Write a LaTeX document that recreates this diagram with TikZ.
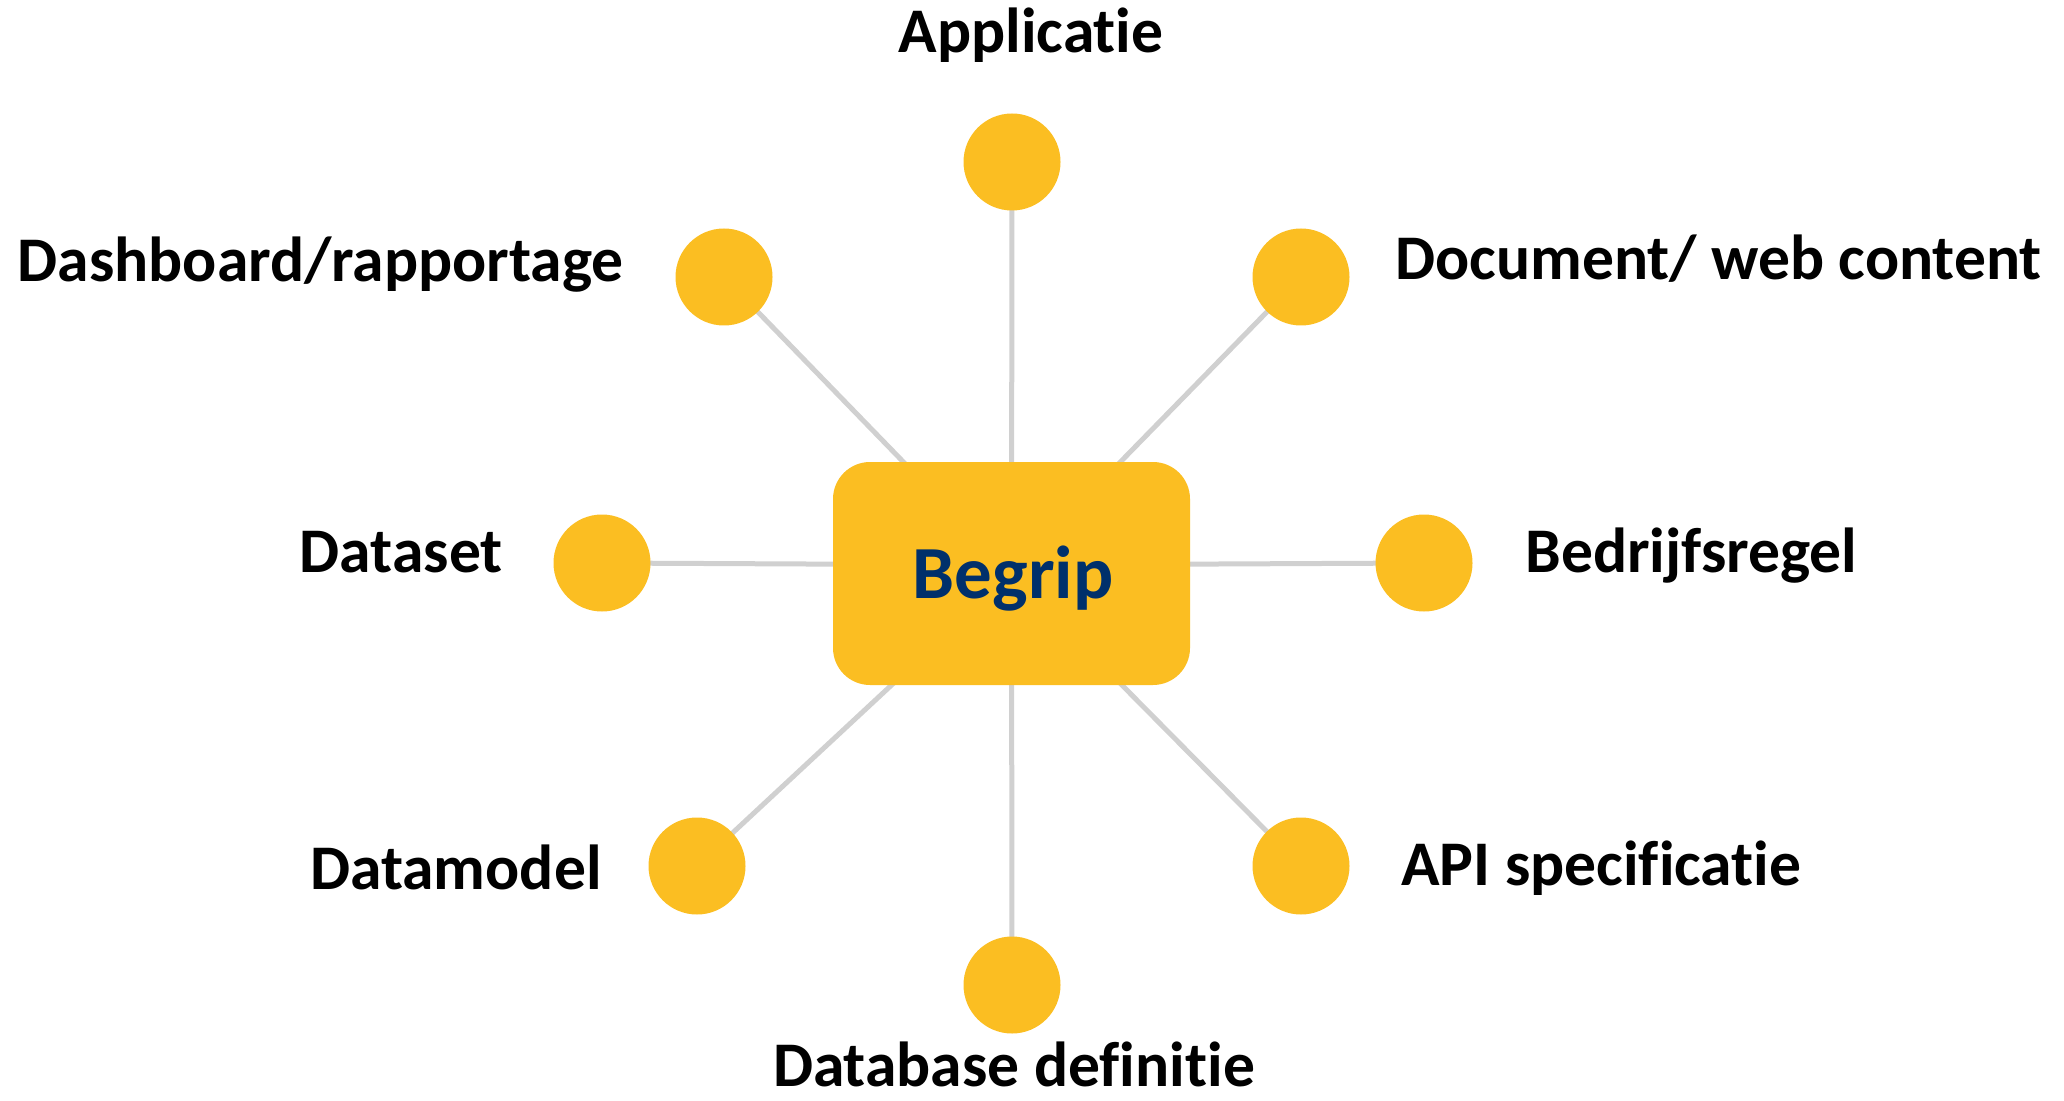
\documentclass[tikz,border=0pt]{standalone}
\usepackage{fontspec}
\setmainfont{Carlito}[Ligatures={NoCommon}]
\usetikzlibrary{backgrounds}
\definecolor{gold}{RGB}{251,190,34}
\definecolor{linegrey}{RGB}{208,208,208}
\definecolor{navy}{RGB}{0,48,107}
\begin{document}
\begin{tikzpicture}[x=0.5pt,y=-0.5pt,
  dot/.style={circle,fill=gold,minimum size=48.5pt,inner sep=0pt},
  hub/.style={rectangle,rounded corners=18.5pt,fill=gold,minimum width=178.5pt,minimum height=111.5pt,inner sep=0pt},
  lbl/.style={inner sep=0pt,font=\fontsize{31.8}{37}\selectfont\bfseries,text=black},
  link/.style={draw=linegrey,line width=2.5pt}]
\useasboundingbox (0,0) rectangle (2064,1101);
\node[hub] (b) at (1011.5,573.5) {};
\node[anchor=base,inner sep=0pt,font=\fontsize{37.5}{44}\selectfont\bfseries,text=navy] (bt) at (1013,598) {Begrip};
\node[dot] (c1) at (1012,162) {};
\node[dot] (c2) at (724,277) {};
\node[dot] (c3) at (1301,277) {};
\node[dot] (c4) at (602,563) {};
\node[dot] (c5) at (1424,563) {};
\node[dot] (c6) at (697,866) {};
\node[dot] (c7) at (1301,866) {};
\node[dot] (c8) at (1012,985) {};
\coordinate (bl) at (1011.5,565);
\node[lbl,anchor=base] (l1) at (1031,53) {Applicatie};
\node[lbl,anchor=base east] (l2) at (624,282) {Dashboard/rapportage};
\node[lbl,anchor=base west] (l3) at (1395,280) {Document/ web content};
\node[lbl,anchor=base east] (l4) at (503,572) {Dataset};
\node[lbl,anchor=base west] (l5) at (1525,572) {Bedrijfsregel};
\node[lbl,anchor=base east] (l6) at (602,889) {Datamodel};
\node[lbl,anchor=base west] (l7) at (1401,885) {API specificatie};
\node[lbl,anchor=base] (l8) at (1014,1086) {Database definitie};
\begin{scope}[on background layer]
\foreach \c in {c1,c2,c3,c6,c7,c8}{\draw[link] (\c.center) -- (b.center);}
\foreach \c in {c4,c5}{\draw[link] (\c.center) -- (bl);}
\end{scope}
\end{tikzpicture}
\end{document}
